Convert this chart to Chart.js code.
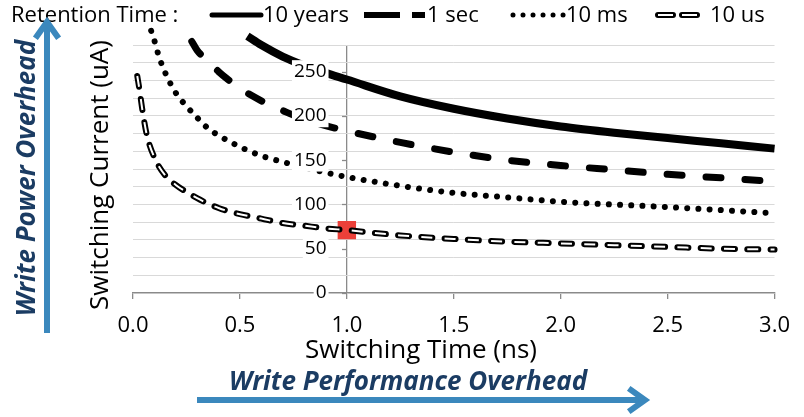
<!DOCTYPE html>
<html>
<head>
<meta charset="utf-8">
<script src="https://cdn.jsdelivr.net/npm/chart.js@4.4.1/dist/chart.umd.min.js"></script>
<style>
  html, body { margin: 0; padding: 0; background: #fff; }
  #wrap { width: 804px; height: 417px; }
</style>
</head>
<body>
<div id="wrap"><canvas id="chart" width="804" height="417"></canvas></div>
<script>
// switching time (ns) / switching current (uA)
const tYears = [0.535, 0.6, 0.7, 0.8, 0.9, 1.0, 1.25, 1.5, 1.75, 2.0, 2.25, 2.5, 2.75, 3.0];
const iYears = [290, 280, 267, 257, 248.5, 241, 222, 208, 197, 188, 181, 175, 169, 163];
const tSec = [0.275, 0.3, 0.35, 0.4, 0.45, 0.5, 0.6, 0.7, 0.8, 0.9, 1.0, 1.25, 1.5, 1.75, 2.0, 2.25, 2.5, 2.75, 3.0];
const iSec = [284, 274, 262, 250, 240, 231, 217, 206, 196, 189, 183, 170, 159, 150, 144, 139, 134, 130, 126];
const tMs = [0.085, 0.1, 0.12, 0.15, 0.2, 0.25, 0.3, 0.35, 0.4, 0.5, 0.6, 0.7, 0.8, 0.9, 1.0, 1.25, 1.5, 1.75, 2.0, 2.5, 3.0];
const iMs = [296, 285, 268, 249, 226, 211, 198, 186, 178, 165, 155, 148, 142, 136, 131, 121, 113, 108, 103, 97, 90];
const tUs = [0.02, 0.03, 0.045, 0.065, 0.1, 0.15, 0.2, 0.25, 0.3, 0.35, 0.4, 0.45, 0.5, 0.6, 0.7, 0.8, 0.9, 1.0, 1.25, 1.5, 1.75, 2.0, 2.25, 2.5, 2.75, 3.0];
const iUs = [245, 230, 205, 178, 153, 133, 122, 114, 107, 101, 96, 92, 89, 84, 79, 76, 73, 71, 65, 61, 58, 56, 54, 52, 50, 49];
const markT = [1.0];
const markI = [71];
const seriesNames = ['10 years', '1 sec', '10 ms', '10 us'];
const xTicks = [0, 0.5, 1, 1.5, 2, 2.5, 3];
const yTicks = [0, 50, 100, 150, 200, 250];

const FONT = '"Open Sans"';
const AXIS = '#8a8a8a';
const GRID = '#d9d9d9';
const NAVY = '#1b3c63';
const BLUE = '#3b88bd';

const pts = (ts, is) => ts.map((t, i) => ({ x: t, y: is[i] }));

const lineBase = {
  pointRadius: 0,
  fill: false,
  clip: false,
  cubicInterpolationMode: 'monotone',
  borderJoinStyle: 'round'
};

function arrow(ctx, x1, y1, x2, y2) {
  const a = Math.atan2(y2 - y1, x2 - x1);
  const len = 20, spread = 0.62;
  ctx.strokeStyle = BLUE;
  ctx.lineWidth = 6;
  ctx.lineCap = 'butt';
  ctx.beginPath();
  ctx.moveTo(x1, y1);
  ctx.lineTo(x2 - 3 * Math.cos(a), y2 - 3 * Math.sin(a));
  ctx.stroke();
  ctx.lineJoin = 'miter';
  ctx.beginPath();
  ctx.moveTo(x2 - len * Math.cos(a - spread), y2 - len * Math.sin(a - spread));
  ctx.lineTo(x2, y2);
  ctx.lineTo(x2 - len * Math.cos(a + spread), y2 - len * Math.sin(a + spread));
  ctx.stroke();
}

const annotate = {
  id: 'annotate',
  afterDraw(chart) {
    const ctx = chart.ctx;
    const xs = chart.scales.x, ys = chart.scales.y;
    ctx.save();

    // y tick marks, left of the axis at x = 1.0
    const ax = Math.round(xs.getPixelForValue(1));
    ctx.strokeStyle = AXIS;
    ctx.lineWidth = 1.3;
    yTicks.forEach(v => {
      const py = Math.round(ys.getPixelForValue(v)) + 0.5;
      ctx.beginPath(); ctx.moveTo(ax - 5, py); ctx.lineTo(ax, py); ctx.stroke();
    });

    // legend
    ctx.fillStyle = '#000';
    ctx.textBaseline = 'alphabetic';
    ctx.textAlign = 'left';
    ctx.font = '22px ' + FONT;
    const lb = 22, ly = 15;
    ctx.fillText('Retention Time :', 11, lb);
    ctx.fillText(seriesNames[0], 263, lb);
    ctx.fillText(seriesNames[1], 427, lb);
    ctx.fillText(seriesNames[2], 566, lb);
    ctx.fillText(seriesNames[3], 710, lb);

    ctx.strokeStyle = '#000';
    ctx.lineWidth = 5; ctx.lineCap = 'round'; ctx.setLineDash([]);
    ctx.beginPath(); ctx.moveTo(212, ly); ctx.lineTo(261, ly); ctx.stroke();
    ctx.lineWidth = 6; ctx.lineCap = 'butt'; ctx.setLineDash([36, 12]);
    ctx.beginPath(); ctx.moveTo(364, ly); ctx.lineTo(425, ly); ctx.stroke();
    ctx.lineWidth = 5; ctx.lineCap = 'round'; ctx.setLineDash([0.01, 10]);
    ctx.beginPath(); ctx.moveTo(513, ly); ctx.lineTo(564, ly); ctx.stroke();
    ctx.lineWidth = 6; ctx.lineCap = 'round'; ctx.setLineDash([15, 9]);
    ctx.beginPath(); ctx.moveTo(658, ly); ctx.lineTo(700, ly); ctx.stroke();
    ctx.strokeStyle = '#fff'; ctx.lineWidth = 2; ctx.lineCap = 'butt';
    ctx.beginPath(); ctx.moveTo(658, ly); ctx.lineTo(700, ly); ctx.stroke();
    ctx.setLineDash([]);

    // axis titles
    ctx.fillStyle = '#000';
    ctx.textAlign = 'center';
    ctx.font = '26px ' + FONT;
    ctx.fillText('Switching Time (ns)', 421, 358);
    ctx.save();
    ctx.translate(108, 175);
    ctx.rotate(-Math.PI / 2);
    ctx.fillText('Switching Current (uA)', 0, 0);
    ctx.restore();

    // overhead annotations
    ctx.fillStyle = NAVY;
    ctx.font = 'italic bold 26px ' + FONT;
    ctx.fillText('Write Performance Overhead', 408, 390);
    ctx.save();
    ctx.translate(35, 178);
    ctx.rotate(-Math.PI / 2);
    ctx.fillText('Write Power Overhead', 0, 0);
    ctx.restore();
    arrow(ctx, 197, 400, 645, 400);
    arrow(ctx, 47, 333, 47, 22);
    ctx.restore();
  }
};

new Chart(document.getElementById('chart'), {
  type: 'line',
  data: {
    datasets: [
      Object.assign({}, lineBase, {
        label: seriesNames[0], data: pts(tYears, iYears),
        borderColor: '#000', borderWidth: 8, borderCapStyle: 'butt', order: 0
      }),
      Object.assign({}, lineBase, {
        label: seriesNames[1], data: pts(tSec, iSec),
        borderColor: '#000', borderWidth: 7, borderDash: [15, 24], borderCapStyle: 'round', order: 0
      }),
      Object.assign({}, lineBase, {
        label: seriesNames[2], data: pts(tMs, iMs),
        borderColor: '#000', borderWidth: 6, borderDash: [0.01, 11.2], borderCapStyle: 'round', order: 0
      }),
      Object.assign({}, lineBase, {
        label: seriesNames[3], data: pts(tUs, iUs),
        borderColor: '#000', borderWidth: 6, borderDash: [11, 12.3], borderCapStyle: 'round', order: 2
      }),
      Object.assign({}, lineBase, {
        label: seriesNames[3] + ' inner', data: pts(tUs, iUs),
        borderColor: '#fff', borderWidth: 2, borderDash: [11, 12.3], borderCapStyle: 'butt', order: 1
      }),
      {
        type: 'scatter', label: 'marker', data: pts(markT, markI),
        pointStyle: 'rect', pointRadius: 13, backgroundColor: '#ec4039', borderWidth: 0, order: 5
      }
    ]
  },
  options: {
    responsive: false,
    animation: false,
    layout: { padding: { left: 133, right: 21, top: 45, bottom: 74 } },
    plugins: { legend: { display: false }, tooltip: { enabled: false } },
    scales: {
      x: {
        type: 'linear', min: 0, max: 3,
        afterBuildTicks: s => { s.ticks = xTicks.map(v => ({ value: v })); },
        ticks: { callback: v => v.toFixed(1), font: { family: 'Open Sans', size: 22 }, color: '#000', padding: 14, maxRotation: 0 },
        grid: { color: c => (c.tick && c.tick.value === 1 ? AXIS : 'rgba(0,0,0,0)'), tickColor: AXIS, tickLength: 6, lineWidth: 1.3 },
        border: { color: AXIS, width: 1.3 },
        afterFit: s => { s.height = 50; }
      },
      yg: {
        type: 'linear', position: 'left', min: 0, max: 280,
        ticks: { display: false, stepSize: 20 },
        grid: { color: GRID, drawTicks: false, lineWidth: 1 },
        border: { display: false },
        afterFit: s => { s.width = 0; }
      },
      y: {
        type: 'linear', position: { x: 0.905 }, min: 0, max: 280,
        afterBuildTicks: s => { s.ticks = yTicks.map(v => ({ value: v })); },
        ticks: { z: 1, font: { family: 'Open Sans', size: 19 }, color: '#000',
          showLabelBackdrop: true, backdropColor: '#fff', backdropPadding: { x: 2, y: 0 } },
        grid: { display: false },
        border: { display: false }
      }
    }
  },
  plugins: [annotate]
});
</script>
</body>
</html>
